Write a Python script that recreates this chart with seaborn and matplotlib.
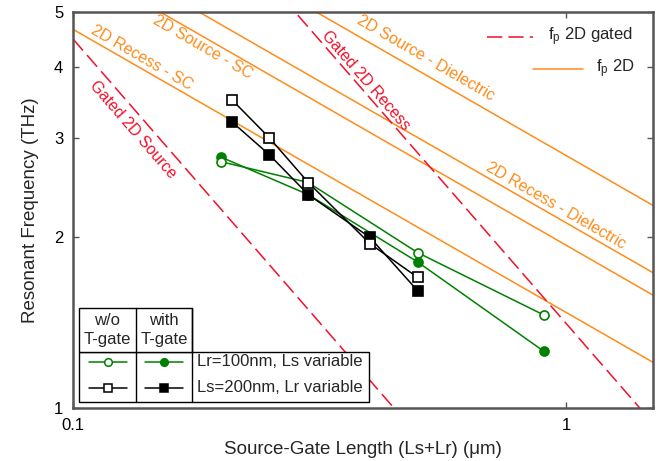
import matplotlib
matplotlib.use("Agg")
import matplotlib.pyplot as plt
from matplotlib.ticker import FixedLocator, NullLocator, FixedFormatter
from matplotlib.patches import Rectangle
import seaborn as sns

# measured data
ls200_x = [0.21, 0.25, 0.30, 0.40, 0.50]
ls200_wo = [3.50, 3.00, 2.50, 1.95, 1.70]
ls200_with = [3.20, 2.80, 2.38, 2.00, 1.61]

lr100_x = [0.20, 0.30, 0.50, 0.90]
lr100_wo = [2.72, 2.50, 1.88, 1.46]
lr100_with = [2.77, 2.38, 1.81, 1.26]

# theory lines, end points at L = 0.1 and 1.5 um
line_x = [0.1, 1.5]
fp_recess_sc = [4.66, 1.204]
fp_source_sc = [6.13, 1.582]
fp_recess_diel = [6.71, 1.733]
fp_source_diel = [8.82, 2.278]
fp_gated_source = [4.48, 0.298]
fp_gated_recess = [14.1, 0.94]

sns.set_style("ticks")
plt.rcParams['font.family'] = ['Liberation Sans', 'DejaVu Sans']
plt.rcParams['mathtext.default'] = 'regular'

orange = '#FF8C1A'
red = '#F2102A'
green = '#008000'

fig = plt.figure(figsize=(6.68, 4.61), dpi=100)
ax = fig.add_axes([0.1093, 0.115, 0.8682, 0.859])

for ys in [fp_recess_sc, fp_source_sc, fp_recess_diel, fp_source_diel]:
    sns.lineplot(x=line_x, y=ys, ax=ax, color=orange, lw=1.1)
for ys in [fp_gated_source, fp_gated_recess]:
    sns.lineplot(x=line_x, y=ys, ax=ax, color=red, lw=1.1, dashes=False,
                 linestyle=(0, (10, 4)))

sq = dict(marker='s', markersize=7.5, markeredgecolor='black', markeredgewidth=1.2)
ci = dict(marker='o', markersize=6.5, markeredgecolor=green, markeredgewidth=1.2)
sns.lineplot(x=lr100_x, y=lr100_with, ax=ax, color=green, lw=1.1, markerfacecolor=green, **ci)
sns.lineplot(x=lr100_x, y=lr100_wo, ax=ax, color=green, lw=1.1, markerfacecolor='white', **ci)
sns.lineplot(x=ls200_x, y=ls200_with, ax=ax, color='black', lw=1.1, markerfacecolor='black', **sq)
sns.lineplot(x=ls200_x, y=ls200_wo, ax=ax, color='black', lw=1.1, markerfacecolor='white', **sq)

ax.set_xscale('log')
ax.set_yscale('log')
ax.set_xlim(0.1, 1.5)
ax.set_ylim(1, 5)
ax.xaxis.set_major_locator(FixedLocator([0.1, 1]))
ax.xaxis.set_major_formatter(FixedFormatter(['0.1', '1']))
ax.xaxis.set_minor_locator(NullLocator())
ax.yaxis.set_major_locator(FixedLocator([1, 2, 3, 4, 5]))
ax.yaxis.set_major_formatter(FixedFormatter(['1', '2', '3', '4', '5']))
ax.yaxis.set_minor_locator(NullLocator())
ax.tick_params(direction='in', length=4, width=1, top=True, right=True,
               labelsize=12, colors='#555555', labelcolor='black', pad=7)
for s in ax.spines.values():
    s.set_color('#555555')
    s.set_linewidth(1.8)

ax.set_xlabel('Source-Gate Length (Ls+Lr) (μm)', fontsize=13.5, labelpad=6)
ax.set_ylabel('Resonant Frequency (THz)', fontsize=13.5, labelpad=11)

# curve labels
lab = dict(fontsize=11.5, ha='center', va='center', rotation_mode='anchor')
ax.text(0.1324, 3.095, 'Gated 2D Source', color=red, rotation=-49, **lab)
ax.text(0.393, 3.79, 'Gated 2D Recess', color=red, rotation=-49, **lab)
ax.text(0.138, 4.15, '2D Recess - SC', color=orange, rotation=-30, **lab)
ax.text(0.1835, 4.34, '2D Source - SC', color=orange, rotation=-30, **lab)
ax.text(0.52, 4.15, '2D Source - Dielectric', color=orange, rotation=-30, **lab)
ax.text(0.954, 2.28, '2D Recess - Dielectric', color=orange, rotation=-30, **lab)

# top right legend
T = ax.transAxes
ax.plot([0.7138, 0.7931], [0.937, 0.937], transform=T, color=red, lw=1.1, ls=(0, (10, 4)))
ax.text(0.819, 0.937, 'f$_p$ 2D gated', transform=T, fontsize=12, va='center')
ax.plot([0.7931, 0.8793], [0.856, 0.856], transform=T, color=orange, lw=1.1)
ax.text(0.9017, 0.856, 'f$_p$ 2D', transform=T, fontsize=12, va='center')

# bottom left table legend
x0, x1, x2, x3 = 0.0103, 0.1086, 0.2052, 0.5103
yb, ym, yt = 0.0152, 0.1414, 0.2525
ax.add_patch(Rectangle((x0, yb), x3 - x0, ym - yb, transform=T, facecolor='white',
                       edgecolor='black', lw=1, zorder=5))
ax.add_patch(Rectangle((x0, ym), x2 - x0, yt - ym, transform=T, facecolor='white',
                       edgecolor='black', lw=1, zorder=5))
for xv in [x1, x2]:
    ax.plot([xv, xv], [yb, yt], transform=T, color='black', lw=1, zorder=6)
ax.text((x0 + x1) / 2, 0.197, 'w/o\nT-gate', transform=T, fontsize=12,
        ha='center', va='center', zorder=7, linespacing=1.3)
ax.text((x1 + x2) / 2, 0.197, 'with\nT-gate', transform=T, fontsize=12,
        ha='center', va='center', zorder=7, linespacing=1.3)
rows = [(0.1162, green, 'o', 'Lr=100nm, Ls variable', 5.5),
        (0.0505, 'black', 's', 'Ls=200nm, Lr variable', 6)]
for yr, c, m, txt, ms in rows:
    for (a, b), fc in [((0.0276, 0.0931), 'white'), ((0.1241, 0.1897), c)]:
        ax.plot([a, b], [yr, yr], transform=T, color=c, lw=1.1, zorder=7)
        ax.plot([(a + b) / 2], [yr], transform=T, marker=m, ms=ms, mfc=fc,
                mec=c, mew=1.1, zorder=8)
    ax.text(0.2138, yr, txt, transform=T, fontsize=12, va='center', zorder=7)

fig.savefig('out.png', dpi=100)
